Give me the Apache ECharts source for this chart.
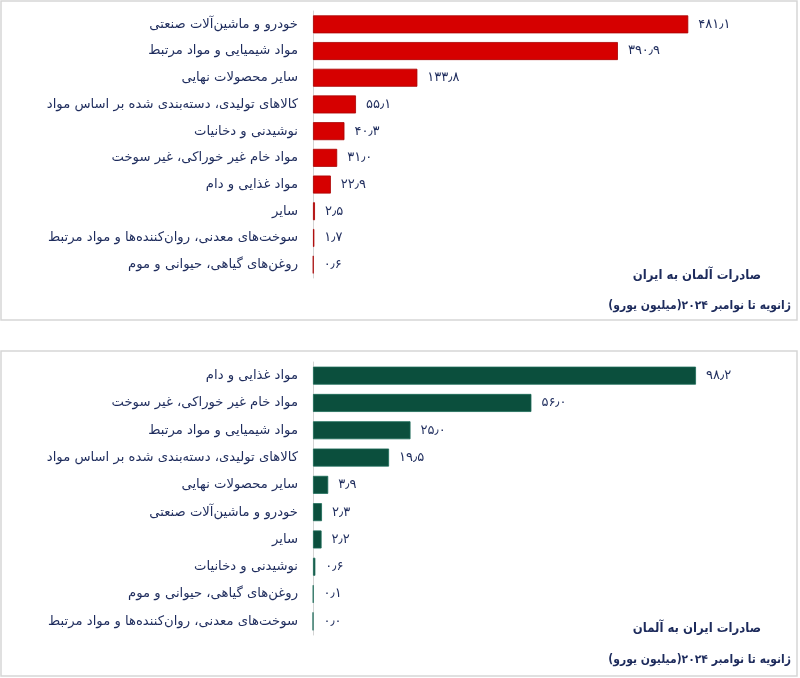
<!DOCTYPE html>
<html>
<head>
<meta charset="utf-8">
<script src="https://cdn.jsdelivr.net/npm/echarts@6/dist/echarts.min.js"></script>
<style>
  html, body { margin: 0; padding: 0; background: #fff; }
  #main { width: 800px; height: 678px; direction: rtl; }
</style>
</head>
<body>
<div id="main"></div>
<script>
// صادرات آلمان به ایران
var deNames = [
  'خودرو و ماشین‌آلات صنعتی',
  'مواد شیمیایی و مواد مرتبط',
  'سایر محصولات نهایی',
  'کالاهای تولیدی، دسته‌بندی شده بر اساس مواد',
  'نوشیدنی و دخانیات',
  'مواد خام غیر خوراکی، غیر سوخت',
  'مواد غذایی و دام',
  'سایر',
  'سوخت‌های معدنی، روان‌کننده‌ها و مواد مرتبط',
  'روغن‌های گیاهی، حیوانی و موم'
];
var deValues = [481.1, 390.9, 133.8, 55.1, 40.3, 31.0, 22.9, 2.5, 1.7, 0.6];

// صادرات ایران به آلمان
var irNames = [
  'مواد غذایی و دام',
  'مواد خام غیر خوراکی، غیر سوخت',
  'مواد شیمیایی و مواد مرتبط',
  'کالاهای تولیدی، دسته‌بندی شده بر اساس مواد',
  'سایر محصولات نهایی',
  'خودرو و ماشین‌آلات صنعتی',
  'سایر',
  'نوشیدنی و دخانیات',
  'روغن‌های گیاهی، حیوانی و موم',
  'سوخت‌های معدنی، روان‌کننده‌ها و مواد مرتبط'
];
var irValues = [98.2, 56.0, 25.0, 19.5, 3.9, 2.3, 2.2, 0.6, 0.1, 0.0];

var titles = ['صادرات آلمان به ایران', 'صادرات ایران به آلمان'];
var subTitle = 'ژانویه تا نوامبر ۲۰۲۴(میلیون یورو)';

var FONT = "'DejaVu Sans', sans-serif";
var TFONT = "'DejaVu Sans Condensed', 'DejaVu Sans', sans-serif";
var NAVY = '#1d2b5c';

// عدد فارسی
function faNum(v) {
  var digits = '۰۱۲۳۴۵۶۷۸۹';
  return v.toFixed(1).replace(/\d/g, function (d) { return digits[+d]; }).replace('.', '٫');
}

var chart = echarts.init(document.getElementById('main'));

function yAxisFor(names, idx) {
  return {
    type: 'category',
    gridIndex: idx,
    inverse: true,
    data: names,
    axisLine: { show: true, lineStyle: { color: '#d4d4d4', width: 1 } },
    axisTick: { show: false },
    axisLabel: { color: NAVY, fontSize: 13.2, fontFamily: FONT, margin: 15 },
    splitLine: { show: false }
  };
}

function xAxisFor(max, idx) {
  return {
    type: 'value',
    gridIndex: idx,
    min: 0,
    max: max,
    show: false,
    splitLine: { show: false }
  };
}

function barSeries(values, idx, color, edge) {
  return {
    type: 'bar',
    xAxisIndex: idx,
    yAxisIndex: idx,
    data: values,
    barWidth: 18,
    itemStyle: { color: color, borderColor: edge, borderWidth: 0.8 },
    label: {
      show: true,
      position: 'right',
      distance: 10,
      color: NAVY,
      fontSize: 13,
      fontFamily: FONT,
      formatter: function (p) { return faNum(p.value); }
    },
    silent: true
  };
}

var option = {
  backgroundColor: '#fff',
  animation: false,
  graphic: [
    { type: 'rect', shape: { x: 1, y: 1, width: 796, height: 319 },
      style: { fill: 'none', stroke: '#d6d6d6', lineWidth: 1.5 }, silent: true },
    { type: 'rect', shape: { x: 1, y: 351, width: 796, height: 325 },
      style: { fill: 'none', stroke: '#d6d6d6', lineWidth: 1.5 }, silent: true }
  ],
  title: [
    { text: titles[0], right: 34, top: 264,
      textStyle: { color: NAVY, fontSize: 13, fontWeight: 'bold', fontFamily: TFONT } },
    { text: subTitle, right: 4, top: 295,
      textStyle: { color: NAVY, fontSize: 12, fontWeight: 'bold', fontFamily: TFONT } },
    { text: titles[1], right: 34, top: 617,
      textStyle: { color: NAVY, fontSize: 13, fontWeight: 'bold', fontFamily: TFONT } },
    { text: subTitle, right: 4, top: 649,
      textStyle: { color: NAVY, fontSize: 12, fontWeight: 'bold', fontFamily: TFONT } }
  ],
  grid: [
    { left: 313, right: 19, top: 11, height: 267, containLabel: false },
    { left: 313, right: 19, top: 362, height: 273, containLabel: false }
  ],
  xAxis: [xAxisFor(600, 0), xAxisFor(120, 1)],
  yAxis: [yAxisFor(deNames, 0), yAxisFor(irNames, 1)],
  series: [
    barSeries(deValues, 0, '#d60000', '#a80000'),
    barSeries(irValues, 1, '#0b4f3d', '#1c6b58')
  ]
};

chart.setOption(option);
</script>
</body>
</html>
